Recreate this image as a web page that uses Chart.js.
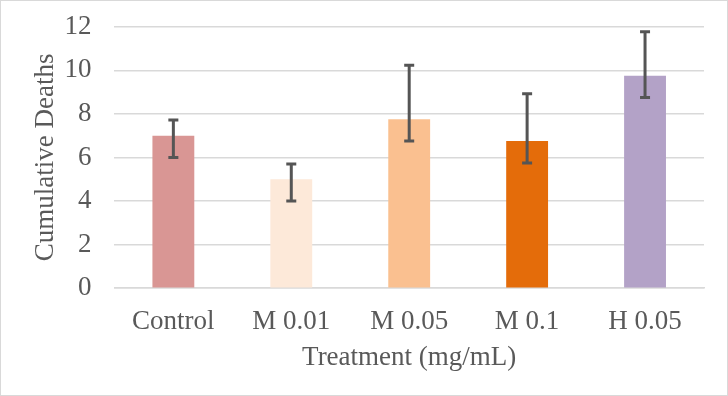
<!DOCTYPE html>
<html>
<head>
<meta charset="utf-8">
<script src="https://cdn.jsdelivr.net/npm/chart.js@4.4.0/dist/chart.umd.min.js"></script>
<style>
  html, body { margin: 0; padding: 0; background: #fff; }
  #wrap { position: relative; width: 728px; height: 396px; box-sizing: border-box; border: 1px solid #d9d9d9; }
  canvas { display: block; }
</style>
</head>
<body>
<div id="wrap"><canvas id="chart"></canvas></div>
<script>
// --- data ---
const categories = ['Control', 'M 0.01', 'M 0.05', 'M 0.1', 'H 0.05'];
const deaths = [7, 5, 7.75, 6.75, 9.75];
const errLow = [6, 4, 6.75, 5.75, 8.75];
const errHigh = [7.72, 5.7, 10.23, 8.92, 11.77];
const barColors = ['#d99694', '#fde9d9', '#fac090', '#e46c0a', '#b3a2c7'];

const FONT = "'Liberation Serif', 'DejaVu Serif', serif";
const TEXT = '#595959';

// draws the custom error bars on top of the bars
const errorBars = {
    id: 'errorBars',
    afterDatasetsDraw(chart) {
        const ctx = chart.ctx;
        const yScale = chart.scales.y;
        const meta = chart.getDatasetMeta(0);
        ctx.save();
        ctx.strokeStyle = '#555555';
        ctx.lineWidth = 3;
        meta.data.forEach((bar, i) => {
            const x = bar.x;
            const yLo = yScale.getPixelForValue(errLow[i]);
            const yHi = yScale.getPixelForValue(errHigh[i]);
            ctx.beginPath();
            ctx.moveTo(x, yLo);
            ctx.lineTo(x, yHi);
            ctx.moveTo(x - 5, yLo);
            ctx.lineTo(x + 5, yLo);
            ctx.moveTo(x - 5, yHi);
            ctx.lineTo(x + 5, yHi);
            ctx.stroke();
        });
        ctx.restore();
    }
};

new Chart(document.getElementById('chart'), {
    type: 'bar',
    data: {
        labels: categories,
        datasets: [{
            data: deaths,
            backgroundColor: barColors,
            borderWidth: 0,
            barPercentage: 0.355,
            categoryPercentage: 1.0
        }]
    },
    options: {
        responsive: true,
        maintainAspectRatio: false,
        animation: false,
        layout: { padding: { top: 0, right: 23, bottom: 21, left: 22 } },
        plugins: {
            legend: { display: false },
            tooltip: { enabled: false }
        },
        scales: {
            x: {
                grid: { display: false, drawTicks: false },
                border: { color: '#d9d9d9', width: 1.5 },
                ticks: { color: TEXT, font: { family: FONT, size: 27 }, padding: 18 },
                title: { display: true, text: 'Treatment (mg/mL)', color: TEXT, font: { family: FONT, size: 27 }, padding: { top: -15, bottom: 0 } }
            },
            y: {
                min: 0, max: 12,
                ticks: { stepSize: 2, color: TEXT, font: { family: FONT, size: 27, lineHeight: 0.2 }, padding: 23 },
                grid: { color: '#d9d9d9', lineWidth: 1.5, drawTicks: false },
                border: { display: false },
                title: { display: true, text: 'Cumulative Deaths', color: TEXT, font: { family: FONT, size: 27 }, padding: { top: 7, bottom: -21 } }
            }
        }
    },
    plugins: [errorBars]
});
</script>
</body>
</html>
